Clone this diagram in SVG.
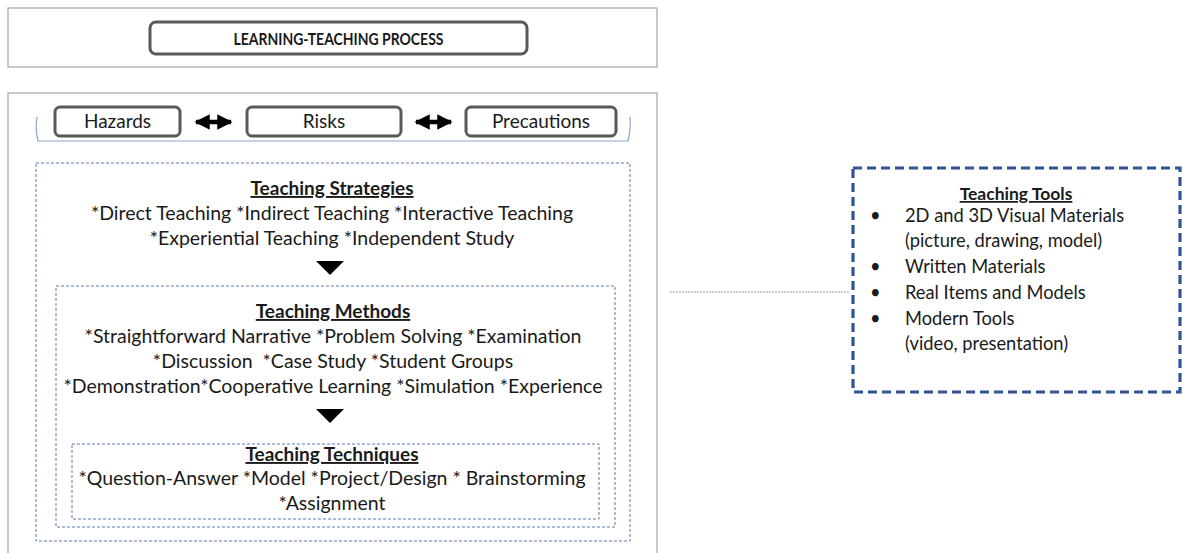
<svg xmlns="http://www.w3.org/2000/svg" width="1182" height="553" viewBox="0 0 1182 553">
  <defs>
    <style>
      text { font-family: Lato, "Liberation Sans", sans-serif; fill: #1a1a1a; }
      .frame { fill: #ffffff; stroke: #a6a6a6; stroke-width: 1.2; }
      .pill { fill: #ffffff; stroke: #595959; stroke-width: 3; }
      .dash { fill: none; stroke: #5b7bb0; stroke-width: 1; stroke-dasharray: 3 2; }
      .tools { fill: #ffffff; stroke: #2f5597; stroke-width: 3.2; stroke-dasharray: 9 5; }
      .title { font-size: 17.5px; font-weight: bold; text-anchor: middle; }
      .lbl { font-size: 19px; text-anchor: middle; }
      .head { font-size: 19px; font-weight: bold; text-anchor: middle; text-decoration: underline; }
      .body { font-size: 19.5px; text-anchor: middle; }
      .thead { font-size: 17.5px; font-weight: bold; text-anchor: middle; text-decoration: underline; }
      .item { font-size: 18.3px; }
    </style>
    <marker id="tip" viewBox="0 0 10 10" refX="9" refY="5" markerWidth="3.4" markerHeight="3.4" orient="auto-start-reverse">
      <path d="M0,0 L10,5 L0,10 z" fill="#000"/>
    </marker>
  </defs>

  <!-- header -->
  <g id="header">
    <rect class="frame" x="8" y="8" width="649" height="59"/>
    <rect class="pill" x="150" y="22" width="377" height="32" rx="6"/>
    <text class="title" x="338.5" y="44.5" textLength="210" lengthAdjust="spacingAndGlyphs">LEARNING-TEACHING PROCESS</text>
  </g>

  <!-- main panel -->
  <g id="panel">
    <rect class="frame" x="8" y="93" width="649" height="470"/>
    <path d="M37,117 Q35,130 38,141 L628,141 Q631,130 630,117" fill="none" stroke="#8ea6cc" stroke-width="1.2"/>
  </g>

  <g id="hazards">
    <rect class="pill" x="55" y="107" width="125" height="29" rx="5"/>
    <text class="lbl" x="117.5" y="128">Hazards</text>
  </g>
  <g id="risks">
    <rect class="pill" x="247" y="107" width="154" height="29" rx="5"/>
    <text class="lbl" x="324" y="128">Risks</text>
  </g>
  <g id="precautions">
    <rect class="pill" x="466" y="107" width="150" height="29" rx="5"/>
    <text class="lbl" x="541" y="128">Precautions</text>
  </g>

  <g id="strategies">
    <rect class="dash" x="36" y="163" width="594" height="378"/>
    <text class="head" x="332" y="195">Teaching Strategies</text>
    <text class="body" x="332" y="220">*Direct Teaching *Indirect Teaching *Interactive Teaching</text>
    <text class="body" x="332" y="245">*Experiential Teaching *Independent Study</text>
  </g>

  <g id="methods">
    <rect class="dash" x="56" y="286" width="559" height="241"/>
    <text class="head" x="333" y="318">Teaching Methods</text>
    <text class="body" x="333" y="343">*Straightforward Narrative *Problem Solving *Examination</text>
    <text class="body" x="333" y="368" xml:space="preserve">*Discussion  *Case Study *Student Groups</text>
    <text class="body" x="333" y="393">*Demonstration*Cooperative Learning *Simulation *Experience</text>
  </g>

  <g id="techniques">
    <rect class="dash" x="72" y="444" width="527" height="75"/>
    <text class="head" x="332" y="461">Teaching Techniques</text>
    <text class="body" x="332" y="485">*Question-Answer *Model *Project/Design * Brainstorming</text>
    <text class="body" x="332" y="510">*Assignment</text>
  </g>

  <g id="tools">
    <rect class="tools" x="853" y="168" width="327" height="224"/>
    <text class="thead" x="1016" y="200">Teaching Tools</text>
    <g class="item">
      <text x="870" y="222">•</text>
      <text x="905" y="222">2D and 3D Visual Materials</text>
      <text x="905" y="247">(picture, drawing, model)</text>
      <text x="870" y="273">•</text>
      <text x="905" y="273">Written Materials</text>
      <text x="870" y="299">•</text>
      <text x="905" y="299">Real Items and Models</text>
      <text x="870" y="325">•</text>
      <text x="905" y="325">Modern Tools</text>
      <text x="905" y="350">(video, presentation)</text>
    </g>
  </g>

  <!-- connectors -->
  <g id="connectors">
    <line x1="196" y1="122" x2="231" y2="122" stroke="#000" stroke-width="4.5" marker-start="url(#tip)" marker-end="url(#tip)"/>
    <line x1="416" y1="122" x2="451" y2="122" stroke="#000" stroke-width="4.5" marker-start="url(#tip)" marker-end="url(#tip)"/>
    <path d="M316,261 L344,261 L330,275 z" fill="#000"/>
    <path d="M316,409 L344,409 L330,423 z" fill="#000"/>
    <line x1="670" y1="292" x2="850" y2="292" stroke="#9a9a9a" stroke-width="1" stroke-dasharray="2 1"/>
  </g>
</svg>
